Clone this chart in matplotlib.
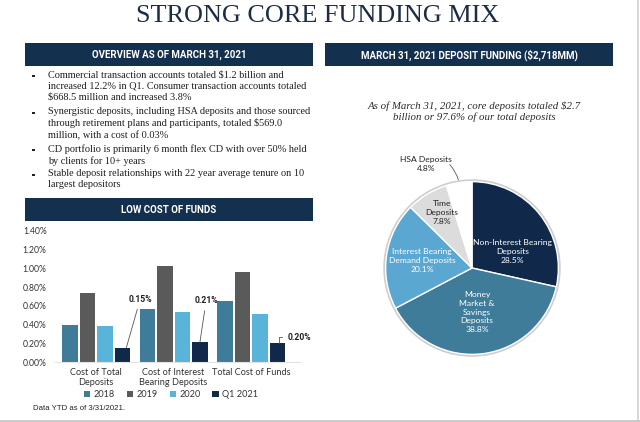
import matplotlib
matplotlib.use("Agg")
import matplotlib.pyplot as plt
from matplotlib.patches import Rectangle, Circle
import numpy as np

# ---- data ----
categories = ["Cost of Total\nDeposits", "Cost of Interest\nBearing Deposits", "Total Cost of Funds"]
years = ["2018", "2019", "2020", "Q1 2021"]
cost_2018 = [0.40, 0.57, 0.65]
cost_2019 = [0.74, 1.03, 0.96]
cost_2020 = [0.38, 0.53, 0.51]
cost_q1_2021 = [0.15, 0.21, 0.20]
y_ticks = [0.0, 0.2, 0.4, 0.6, 0.8, 1.0, 1.2, 1.4]

deposit_types = ["Non-Interest Bearing\nDeposits", "Money\nMarket &\nSavings\nDeposits",
                 "Interest Bearing\nDemand Deposits", "Time\nDeposits", "HSA Deposits"]
deposit_share = [28.5, 38.8, 20.1, 7.8, 4.8]

bullets = [
    "Commercial transaction accounts totaled $1.2 billion and\n"
    "increased 12.2% in Q1. Consumer transaction accounts totaled\n"
    "$668.5 million and increased 3.8%",
    "Synergistic deposits, including HSA deposits and those sourced\n"
    "through retirement plans and participants, totaled $569.0\n"
    "million, with a cost of 0.03%",
    "CD portfolio is primarily 6 month flex CD with over 50% held\n"
    "by clients for 10+ years",
    "Stable deposit relationships with 22 year average tenure on 10\n"
    "largest depositors",
]

# ---- styles ----
NAVY = "#14304f"
TITLE = "#1c2b48"
bar_colors = ["#3f7c99", "#5a5a5a", "#5ab4d9", "#10294a"]
pie_colors = ["#10294a", "#3f7c99", "#5aa8d2", "#dcdcdc", "#ffffff"]
pie_text_colors = ["white", "white", "white", "#222222", "#222222"]
SANS = ["Lato", "DejaVu Sans"]
BOLD = ["Roboto", "DejaVu Sans"]
SERIF = ["Liberation Serif", "DejaVu Serif"]
NARROW = ["Liberation Sans Narrow", "Liberation Sans", "DejaVu Sans"]

W, H = 640, 422
fig = plt.figure(figsize=(W / 100, H / 100), dpi=100)
fig.patch.set_facecolor("white")


def px_box(x0, y0, x1, y1):
    # figure fraction box from pixel corners (y measured from top)
    return [x0 / W, 1 - y1 / H, (x1 - x0) / W, (y1 - y0) / H]


# background layer in pixel coordinates
bg = fig.add_axes([0, 0, 1, 1])
bg.set_xlim(0, W)
bg.set_ylim(H, 0)
bg.axis("off")

bg.text(318, 16, "STRONG CORE FUNDING MIX", ha="center", va="center",
        family=SERIF, fontsize=18.8, color=TITLE)

headers = [(25, 43, 313, 66, "OVERVIEW AS OF MARCH 31, 2021"),
           (325, 43, 613, 66, "MARCH 31, 2021 DEPOSIT FUNDING ($2,718MM)"),
           (25, 198, 313, 221, "LOW COST OF FUNDS")]
for x0, y0, x1, y1, label in headers:
    bg.add_patch(Rectangle((x0, y0), x1 - x0, y1 - y0, color=NAVY, lw=0))
    bg.text((x0 + x1) / 2, (y0 + y1) / 2 + 0.5, label, ha="center", va="center",
            family=BOLD, fontweight="bold", fontsize=7.0, color="white")

# bullet list
bullet_tops = [70, 107, 144, 169]
for top, txt in zip(bullet_tops, bullets):
    bg.add_patch(Rectangle((32, top + 4.5), 2.6, 2.6, color="#222222", lw=0))
    bg.text(48, top, txt, ha="left", va="top", family=SERIF, fontsize=7.4,
            color="#1e1e1e", linespacing=1.3)

bg.text(474, 112, "As of March 31, 2021, core deposits totaled $2.7\nbillion or 97.6% of our total deposits",
        ha="center", va="center", family=SERIF, style="italic", fontsize=7.8,
        color="#2a2a2a", linespacing=1.2)

bg.text(33, 409, "Data YTD as of 3/31/2021.", ha="left", va="center",
        family=NARROW, fontsize=5.6, color="#222222")

# panel edges
bg.plot([637.5, 637.5], [0, 420], color="#cfcfcf", lw=1.2)
bg.plot([0, 640], [420.5, 420.5], color="#c8c8c8", lw=2)

# ---- bar chart ----
ax = fig.add_axes(px_box(55, 231, 300, 362))
ax.patch.set_alpha(0)
x = np.arange(len(categories))
step, width = 0.226, 0.2
series = [cost_2018, cost_2019, cost_2020, cost_q1_2021]
for i, (vals, yr, col) in enumerate(zip(series, years, bar_colors)):
    ax.bar(x + (i - 1.5) * step, vals, width, color=col, label=yr)

ax.set_xlim(-0.53, 2.63)
ax.set_ylim(0, 1.4)
ax.set_yticks(y_ticks)
ax.set_yticklabels([f"{v:.2f}%" for v in y_ticks], family=SANS, fontsize=6.2, color="#333333")
ax.set_xticks(x)
ax.set_xticklabels(categories, family=SANS, fontsize=6.6, color="#333333", linespacing=1.2)
ax.tick_params(length=0)
ax.tick_params(axis="y", pad=6)
ax.tick_params(axis="x", pad=4)
for s in ["top", "right", "left"]:
    ax.spines[s].set_visible(False)
ax.spines["bottom"].set_color("#e3e3e3")
ax.spines["bottom"].set_linewidth(0.8)

# Q1 2021 call-outs
q1_x = x + 1.5 * step
ann_kw = dict(textcoords="offset points", ha="center", va="center", family=BOLD,
              fontweight="bold", fontsize=6.2, color="#222222")
ax.annotate(f"{cost_q1_2021[0]:.2f}%", xy=(q1_x[0] + 0.05, cost_q1_2021[0]), xytext=(10, 35),
            arrowprops=dict(arrowstyle="-", color="#555555", lw=0.6, shrinkA=2, shrinkB=0), **ann_kw)
ax.annotate(f"{cost_q1_2021[1]:.2f}%", xy=(q1_x[1] + 0.0, cost_q1_2021[1]), xytext=(4.5, 30),
            arrowprops=dict(arrowstyle="-", color="#555555", lw=0.6, shrinkA=2, shrinkB=0), **ann_kw)
ax.annotate(f"{cost_q1_2021[2]:.2f}%", xy=(q1_x[2] + 0.02, cost_q1_2021[2]), xytext=(15, 4.5),
            arrowprops=dict(arrowstyle="-", color="#555555", lw=0.6, shrinkA=2, shrinkB=0,
                            connectionstyle="angle,angleA=0,angleB=90,rad=0"), **ann_kw)

leg = ax.legend(loc="center", bbox_to_anchor=(171 / W, 1 - 394.5 / H), bbox_transform=fig.transFigure,
                ncol=4, frameon=False, handlelength=0.7, handleheight=0.7, handletextpad=0.35,
                columnspacing=1.3, prop={"family": SANS, "size": 6.6})
for t in leg.get_texts():
    t.set_color("#333333")

# ---- pie chart ----
pax = fig.add_axes(px_box(472 - 95, 268 - 95, 472 + 95, 268 + 95))
pax.add_patch(Circle((0, 0), 1.015, facecolor="none", edgecolor="#cfcfcf", lw=1.6, zorder=0))
pax.pie(deposit_share, colors=pie_colors, startangle=90, counterclock=False, radius=1,
        wedgeprops=dict(edgecolor="white", linewidth=1.0))
pax.set_xlim(-1.1, 1.1)
pax.set_ylim(-1.1, 1.1)
pax.set_aspect("equal")
pax.axis("off")

label_pos = [(0.47, 0.19), (0.06, -0.51), (-0.58, 0.09), (-0.35, 0.64), (-0.53, 1.2)]
for name, share, (lx, ly), tc in zip(deposit_types, deposit_share, label_pos, pie_text_colors):
    pax.text(lx, ly, f"{name}\n{share:.1f}%", ha="center", va="center", family=SANS,
             fontsize=6.1, color=tc, linespacing=1.3, clip_on=False)
pax.annotate("", xy=(-0.15, 0.99), xytext=(-0.28, 1.22),
             arrowprops=dict(arrowstyle="-", color="#555555", lw=0.6,
                             connectionstyle="arc3,rad=-0.15"))

fig.savefig("out.png", dpi=100, facecolor="white")
